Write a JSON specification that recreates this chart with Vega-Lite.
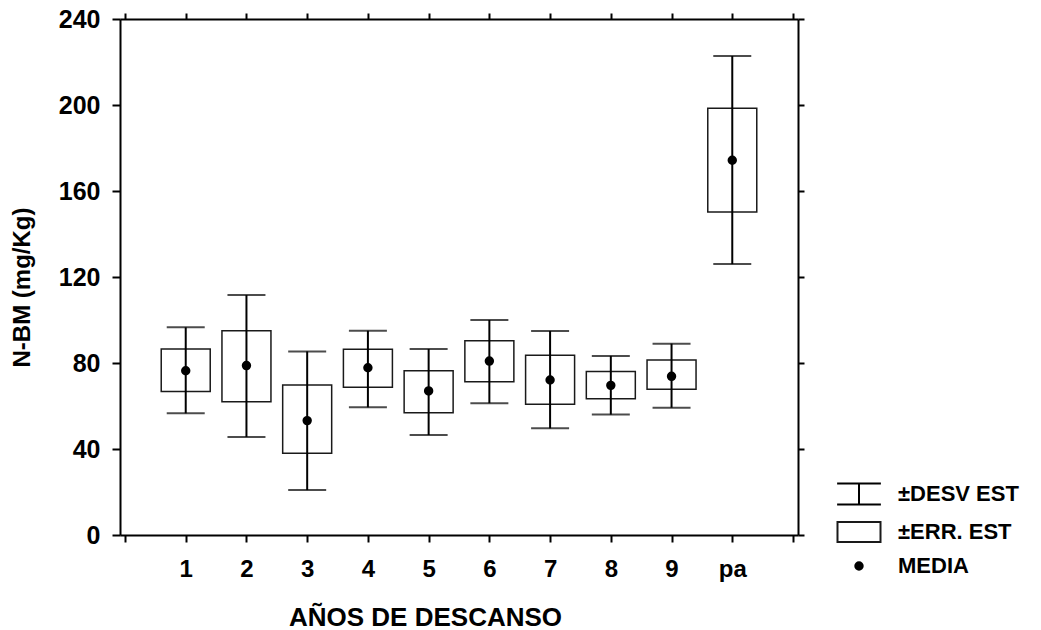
{
  "$schema": "https://vega.github.io/schema/vega-lite/v6.json",
  "width": 678,
  "height": 516,
  "autosize": {"type": "none"},
  "padding": {"left": 120, "top": 19, "right": 243, "bottom": 95},
  "background": "white",
  "config": {
    "font": "Liberation Sans",
    "view": {"stroke": null},
    "axis": {
      "domainColor": "black",
      "domainWidth": 2,
      "tickColor": "black",
      "tickWidth": 2,
      "grid": false,
      "labelFont": "Liberation Sans",
      "labelFontWeight": "bold",
      "labelColor": "black",
      "titleColor": "black",
      "titleFont": "Liberation Sans"
    },
    "legend": {"labelFont": "Liberation Sans", "labelColor": "black"}
  },
  "data": {
    "values": [
      {"pos": 1, "grupo": "1", "media": 76.4, "se_lo": 66.8, "se_hi": 86.5, "sd_lo": 56.6, "sd_hi": 96.6, "leyenda": "MEDIA"},
      {"pos": 2, "grupo": "2", "media": 78.8, "se_lo": 62.0, "se_hi": 95.0, "sd_lo": 45.6, "sd_hi": 111.6, "leyenda": "MEDIA"},
      {"pos": 3, "grupo": "3", "media": 53.2, "se_lo": 38.0, "se_hi": 69.8, "sd_lo": 20.9, "sd_hi": 85.4, "leyenda": "MEDIA"},
      {"pos": 4, "grupo": "4", "media": 77.8, "se_lo": 68.7, "se_hi": 86.4, "sd_lo": 59.4, "sd_hi": 95.0, "leyenda": "MEDIA"},
      {"pos": 5, "grupo": "5", "media": 67.0, "se_lo": 56.9, "se_hi": 76.4, "sd_lo": 46.5, "sd_hi": 86.5, "leyenda": "MEDIA"},
      {"pos": 6, "grupo": "6", "media": 80.9, "se_lo": 71.3, "se_hi": 90.4, "sd_lo": 61.3, "sd_hi": 100.0, "leyenda": "MEDIA"},
      {"pos": 7, "grupo": "7", "media": 72.1, "se_lo": 60.8, "se_hi": 83.6, "sd_lo": 49.6, "sd_hi": 94.9, "leyenda": "MEDIA"},
      {"pos": 8, "grupo": "8", "media": 69.6, "se_lo": 63.4, "se_hi": 76.1, "sd_lo": 56.0, "sd_hi": 83.3, "leyenda": "MEDIA"},
      {"pos": 9, "grupo": "9", "media": 73.8, "se_lo": 67.8, "se_hi": 81.4, "sd_lo": 59.2, "sd_hi": 89.0, "leyenda": "MEDIA"},
      {"pos": 10, "grupo": "pa", "media": 174.3, "se_lo": 150.2, "se_hi": 198.5, "sd_lo": 126.0, "sd_hi": 222.8, "leyenda": "MEDIA"}
    ]
  },
  "layer": [
    {
      "mark": {"type": "bar", "size": 49, "fill": "white", "stroke": "#1a1a1a", "strokeWidth": 1.5},
      "encoding": {
        "x": {
          "field": "pos", "type": "quantitative",
          "scale": {"domain": [0, 11], "nice": false, "zero": false},
          "axis": {
            "orient": "bottom",
            "values": [0, 1, 2, 3, 4, 5, 6, 7, 8, 9, 10, 11],
            "labelExpr": "datum.value == 10 ? 'pa' : (datum.value >= 1 && datum.value <= 9 ? datum.label : '')",
            "tickSize": 7,
            "labelPadding": 15,
            "labelFontSize": 24,
            "labelFlush": false,
            "labelOverlap": false,
            "title": "AÑOS DE DESCANSO",
            "titleFontSize": 26,
            "titleFontWeight": "bold",
            "titleX": 305,
            "titleY": 90,
            "titleAlign": "center",
            "titleBaseline": "alphabetic"
          }
        },
        "y": {
          "field": "se_lo", "type": "quantitative",
          "scale": {"domain": [0, 240], "nice": false},
          "axis": {
            "orient": "left",
            "values": [0, 40, 80, 120, 160, 200, 240],
            "tickSize": 8,
            "labelPadding": 12,
            "labelFontSize": 25,
            "labelFlush": false,
            "title": "N-BM (mg/Kg)",
            "titleFontSize": 24,
            "titleFontWeight": "bold",
            "titleAngle": -90,
            "titleX": -98,
            "titleY": 268,
            "titleAlign": "center",
            "titleBaseline": "middle"
          }
        },
        "y2": {"field": "se_hi"}
      }
    },
    {
      "mark": {"type": "rule", "strokeWidth": 2, "color": "black"},
      "encoding": {
        "x": {
          "field": "pos", "type": "quantitative",
          "axis": {"orient": "top", "values": [0, 1, 2, 3, 4, 5, 6, 7, 8, 9, 10, 11], "labels": false, "tickSize": 6, "title": null}
        },
        "y": {
          "field": "sd_lo", "type": "quantitative",
          "axis": {"orient": "right", "values": [0, 40, 80, 120, 160, 200, 240], "labels": false, "tickSize": 6, "title": null}
        },
        "y2": {"field": "sd_hi"}
      }
    },
    {
      "mark": {"type": "tick", "orient": "horizontal", "size": 38, "thickness": 2, "color": "black"},
      "encoding": {
        "x": {"field": "pos", "type": "quantitative", "axis": null},
        "y": {"field": "sd_hi", "type": "quantitative", "axis": null}
      }
    },
    {
      "mark": {"type": "tick", "orient": "horizontal", "size": 38, "thickness": 2, "color": "black"},
      "encoding": {
        "x": {"field": "pos", "type": "quantitative", "axis": null},
        "y": {"field": "sd_lo", "type": "quantitative", "axis": null}
      }
    },
    {
      "mark": {"type": "point", "filled": false, "size": 55, "strokeWidth": 2, "opacity": 1},
      "encoding": {
        "x": {"field": "pos", "type": "quantitative", "axis": null},
        "y": {"field": "media", "type": "quantitative", "axis": null},
        "shape": {
          "field": "leyenda", "type": "nominal",
          "scale": {
            "domain": ["±DESV EST", "±ERR. EST", "MEDIA"],
            "range": ["M-5.9,-2.8H5.9M0,-2.8V2.8M-5.9,2.8H5.9", "M-5.8,-2.7H5.8V2.7H-5.8Z", "circle"]
          },
          "legend": {"title": null, "orient": "none", "legendX": 728, "legendY": 464, "symbolSize": 55, "labelFontSize": 22, "labelFontWeight": "bold", "labelOffset": 28, "rowPadding": 8, "labelLimit": 300, "symbolStrokeWidth": 2}
        },
        "fill": {
          "field": "leyenda", "type": "nominal",
          "scale": {"domain": ["±DESV EST", "±ERR. EST", "MEDIA"], "range": ["transparent", "white", "black"]},
          "legend": {"title": null, "orient": "none", "legendX": 728, "legendY": 464, "symbolSize": 55, "labelFontSize": 22, "labelFontWeight": "bold", "labelOffset": 28, "rowPadding": 8, "labelLimit": 300, "symbolStrokeWidth": 2}
        },
        "stroke": {
          "field": "leyenda", "type": "nominal",
          "scale": {"domain": ["±DESV EST", "±ERR. EST", "MEDIA"], "range": ["black", "#1a1a1a", "black"]},
          "legend": {"title": null, "orient": "none", "legendX": 728, "legendY": 464, "symbolSize": 55, "labelFontSize": 22, "labelFontWeight": "bold", "labelOffset": 28, "rowPadding": 8, "labelLimit": 300, "symbolStrokeWidth": 2}
        }
      }
    }
  ],
  "resolve": {"axis": {"x": "independent", "y": "independent"}}
}
